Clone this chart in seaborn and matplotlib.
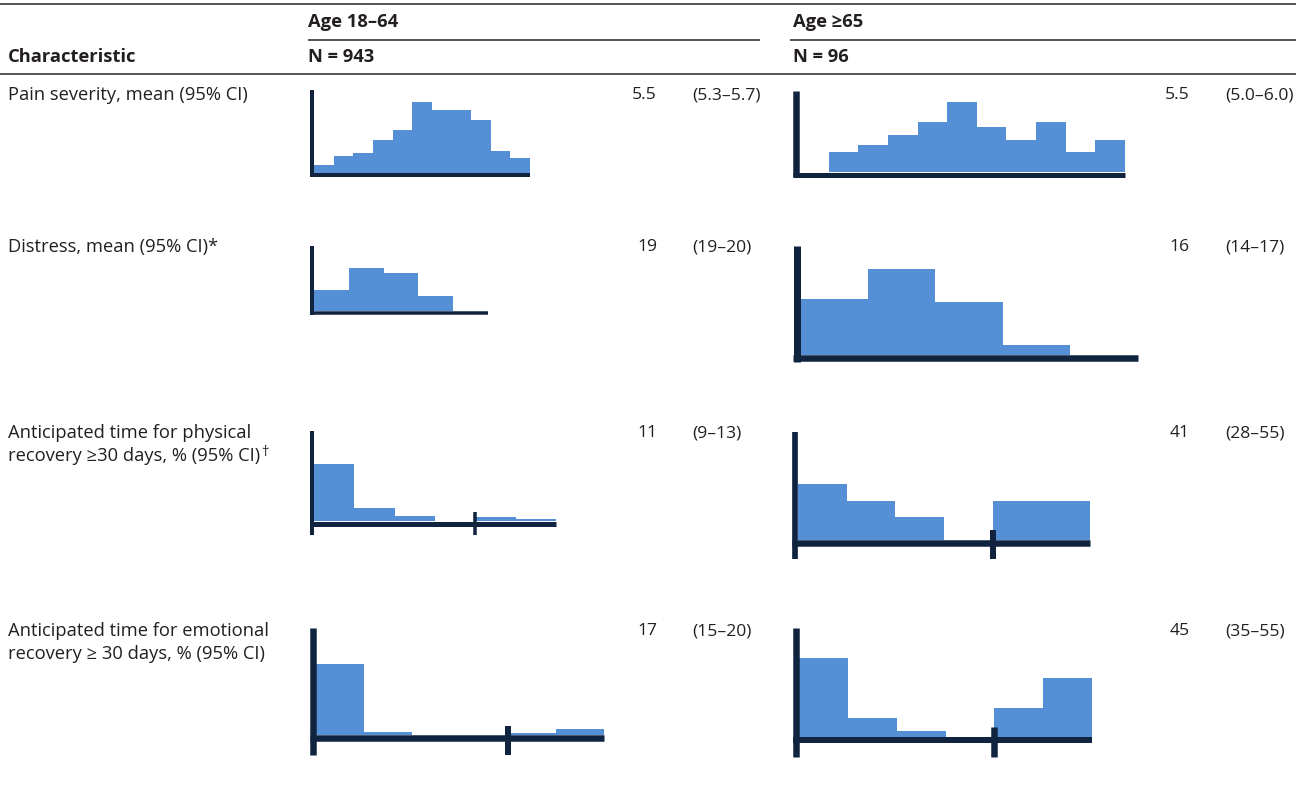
import numpy as np
import pandas as pd
import matplotlib
matplotlib.use("Agg")
import matplotlib.pyplot as plt
import seaborn as sns

# ---------------- data ----------------
row_labels = [
    ["Pain severity, mean (95% CI)"],
    ["Distress, mean (95% CI)*"],
    ["Anticipated time for physical", "recovery \u226530 days, % (95% CI)"],
    ["Anticipated time for emotional", "recovery \u2265 30 days, % (95% CI)"],
]
row_marks = ["", "", "\u2020", ""]
group_titles = ["Age 18\u201364", "Age \u226565"]
group_ns = ["N = 943", "N = 96"]
header_label = "Characteristic"

est_young = ["5.5", "19", "11", "17"]
ci_young = ["(5.3\u20135.7)", "(19\u201320)", "(9\u201313)", "(15\u201320)"]
est_old = ["5.5", "16", "41", "45"]
ci_old = ["(5.0\u20136.0)", "(14\u201317)", "(28\u201355)", "(35\u201355)"]

# histogram bin heights (% of respondents)
pain_young = [1.9, 4.2, 4.8, 8.1, 10.6, 17.4, 15.5, 15.5, 13.0, 5.3, 3.7]
pain_old = [0, 5.2, 7.1, 9.7, 13.0, 18.2, 11.7, 8.4, 13.0, 5.2, 8.4]
distress_young = [17.9, 36.8, 32.2, 13.1, 0]
distress_old = [27.4, 41.9, 25.9, 4.9, 0]
physical_young = [70.1, 16.4, 6.5, 0, 4.6, 2.5]
physical_old = [28.5, 20.0, 11.5, 0, 20.0, 20.0]
emotional_young = [86.3, 3.3, 0, 0, 2.8, 7.7]
emotional_old = [40.7, 10.0, 3.3, 0, 15.2, 30.8]

# ---------------- style ----------------
W, H = 1304, 807
BLUE = "#558FD5"
NAVY = "#102440"
TXT = "#231F20"
FS = 13.2
FS_NUM = 12.6
PT = 0.72  # points per pixel at dpi 100

sns.set_theme(style="white")
plt.rcParams["font.family"] = ["Open Sans", "DejaVu Sans"]

fig = plt.figure(figsize=(W / 100, H / 100), dpi=100)
bg = fig.add_axes([0, 0, 1, 1])
bg.set_xlim(0, W)
bg.set_ylim(H, 0)
bg.axis("off")

# rules
for (x0, x1, y) in [(0, 1296, 4), (308, 760, 39.5), (790, 1296, 39.5), (0, 1296, 74)]:
    bg.plot([x0, x1], [y, y], color=TXT, lw=1.5 * PT, solid_capstyle="butt")

# headers
for x, title, n in [(308, group_titles[0], group_ns[0]), (793, group_titles[1], group_ns[1])]:
    bg.text(x, 22, title, fontsize=FS, fontweight="bold", color=TXT, va="center", ha="left")
    bg.text(x, 57.5, n, fontsize=FS, fontweight="bold", color=TXT, va="center", ha="left")
bg.text(8, 57.5, header_label, fontsize=FS, fontweight="bold", color=TXT, va="center", ha="left")

row_y = [95, 247, 433, 631]
line_gap = 23
label_objs = []
for i, lines in enumerate(row_labels):
    y = row_y[i]
    last = None
    for j, ln in enumerate(lines):
        last = bg.text(8, y + j * line_gap, ln, fontsize=FS, color=TXT, va="center", ha="left")
    label_objs.append(last)
    bg.text(657, y, est_young[i], fontsize=FS_NUM, color=TXT, va="center", ha="right")
    bg.text(692, y, ci_young[i], fontsize=FS_NUM, color=TXT, va="center", ha="left")
    bg.text(1190, y, est_old[i], fontsize=FS_NUM, color=TXT, va="center", ha="right")
    bg.text(1225, y, ci_old[i], fontsize=FS_NUM, color=TXT, va="center", ha="left")

# superscript marks
fig.canvas.draw()
renderer = fig.canvas.get_renderer()
for t, mark in zip(label_objs, row_marks):
    if mark:
        bb = t.get_window_extent(renderer)
        xd, yd = bg.transData.inverted().transform((bb.x1 + 1, bb.y1))
        bg.text(xd, yd - 2, mark, fontsize=FS * 0.8, color=TXT, va="top", ha="left")

# ---------------- histogram panels ----------------
panels = [
    dict(vals=pain_young, bx0=314, bx1=530, by0=173, ytop=90, ybot=177, lwy=4, lwx=4, ymax=20.3),
    dict(vals=pain_old, bx0=799, bx1=1125, by0=172, ytop=91, ybot=177, lwy=6.5, lwx=5, ymax=21.2),
    dict(vals=distress_young, bx0=314, bx1=488, by0=311, ytop=246, ybot=314.5, lwy=4, lwx=3.5, ymax=55.6),
    dict(vals=distress_old, bx0=800, bx1=1138, by0=355, ytop=246, ybot=361.5, lwy=7, lwx=6.5, ymax=53.2),
    dict(vals=physical_young, bx0=314, bx1=556, by0=521, ytop=431, ybot=535, lwy=4, lwx=5, ymax=110.7,
         brk=4, ttop=511.7, tbot=535, tlw=3.5),
    dict(vals=physical_old, bx0=798, bx1=1090, by0=540, ytop=432, ybot=559, lwy=5.7, lwx=6.5, ymax=54.9,
         brk=4, ttop=530, tbot=559, tlw=6),
    dict(vals=emotional_young, bx0=316, bx1=604, by0=735, ytop=628, ybot=755, lwy=6.5, lwx=6.5, ymax=129.6,
         brk=4, ttop=726, tbot=755, tlw=6),
    dict(vals=emotional_old, bx0=799, bx1=1092, by0=737, ytop=628, ybot=757, lwy=6.5, lwx=6, ymax=56.5,
         brk=4, ttop=727, tbot=757, tlw=6.5),
]

for p in panels:
    vals = p["vals"]
    n = len(vals)
    wpx = p["bx1"] - p["bx0"]
    hpx = p["by0"] - p["ytop"]
    ax = fig.add_axes([p["bx0"] / W, 1 - p["by0"] / H, wpx / W, hpx / H])
    df = pd.DataFrame({"bin": np.arange(n) + 0.5, "pct": vals})
    sns.histplot(data=df, x="bin", weights="pct", bins=n, binrange=(0, n), ax=ax,
                 element="step", color=BLUE, alpha=1, linewidth=0)
    ax.set_xlim(0, n)
    ax.set_ylim(0, p["ymax"])
    ax.axis("off")
    # y axis line
    xa = -(p["lwy"] / 2) / wpx
    ax.plot([xa, xa], [1, -(p["ybot"] - p["by0"]) / hpx], transform=ax.transAxes,
            color=NAVY, lw=p["lwy"] * PT, clip_on=False, solid_capstyle="butt", zorder=5)
    # x axis line
    ya = -(p["lwx"] / 2) / hpx
    ax.plot([-p["lwy"] / wpx, 1], [ya, ya], transform=ax.transAxes,
            color=NAVY, lw=p["lwx"] * PT, clip_on=False, solid_capstyle="butt", zorder=5)
    # break tick
    if "brk" in p:
        ax.plot([p["brk"], p["brk"]], [(p["by0"] - p["ttop"]) / hpx, -(p["tbot"] - p["by0"]) / hpx],
                transform=ax.get_xaxis_transform(), color=NAVY, lw=p["tlw"] * PT,
                clip_on=False, solid_capstyle="butt", zorder=6)

fig.savefig("out.png", dpi=100)
